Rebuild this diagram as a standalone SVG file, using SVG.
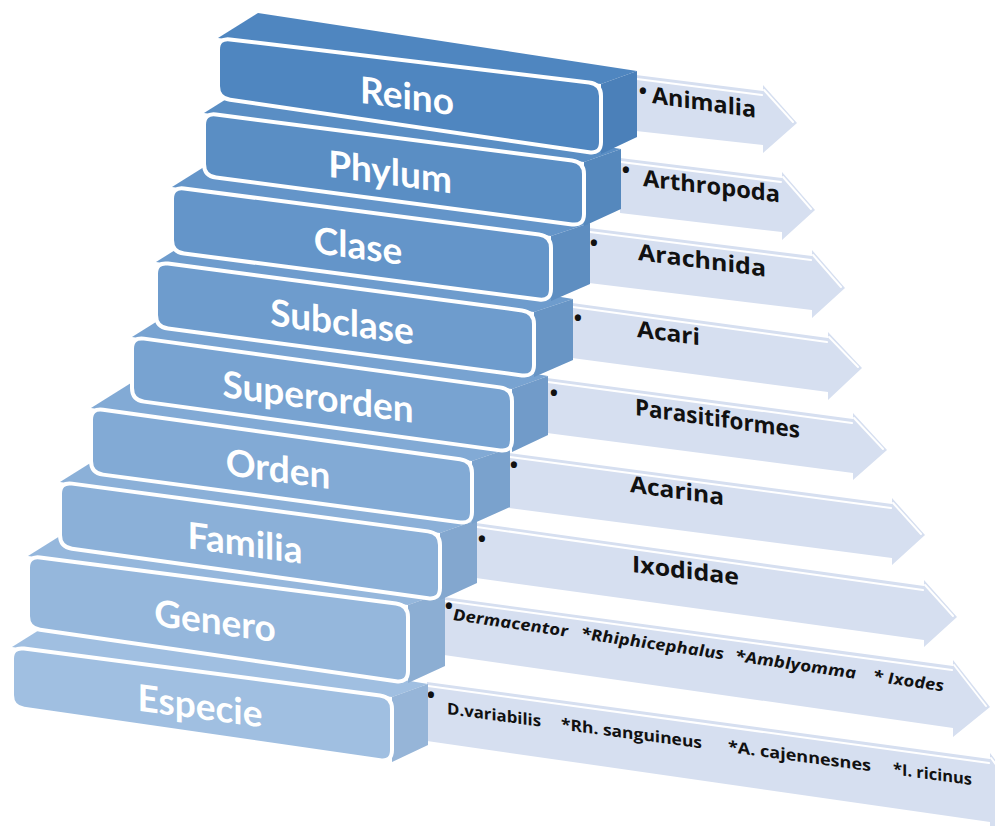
<svg xmlns="http://www.w3.org/2000/svg" width="995" height="826" viewBox="0 0 995 826">
<style>
.arrow{fill:#d6dff0}
.hl{fill:none;stroke:#ffffff;stroke-width:2;stroke-linecap:round}
.front{stroke:#ffffff;stroke-width:4;stroke-linejoin:round}
.side{stroke:none}
.shade{fill:#1f3f6a;opacity:0.07}
.lbl{font-family:Lato,"Open Sans","Liberation Sans",sans-serif;font-weight:700;font-size:37px;fill:#ffffff;text-anchor:middle}
.val{font-family:"Open Sans","Liberation Sans",sans-serif;font-weight:700;font-size:23px;fill:#111111}
.sm{font-family:"Open Sans","Liberation Sans",sans-serif;font-weight:700;font-size:16px;fill:#111111}
.it{font-style:italic}
.bul{font-family:"Open Sans","Liberation Sans",sans-serif;font-weight:700;font-size:22px;fill:#111111;text-anchor:middle}
</style>
<rect width="995" height="826" fill="#ffffff"/>

<g id="node-especie">
<polygon class="arrow" points="427,682 990,759 990,753 1030,805 990,835 990,822 427,741"/>
<polyline class="hl" points="428,686 989,763"/><polyline class="hl" points="991,758 1026,804"/>
<text class="bul" x="431" y="703" font-size="17">•</text>
<g transform="translate(447,714) skewY(7.7)">
<text class="sm" x="0" y="0" textLength="94" lengthAdjust="spacingAndGlyphs">D.variabilis</text>
<text class="sm" x="114" y="0" textLength="141" lengthAdjust="spacingAndGlyphs">*Rh. sanguineus</text>
<text class="sm" x="281" y="0" textLength="143" lengthAdjust="spacingAndGlyphs">*A. cajennesnes</text>
<text class="sm" x="446" y="0" textLength="79" lengthAdjust="spacingAndGlyphs">*I. ricinus</text>
</g>
<polygon fill="#a0bfe1" points="12,647 52,622 428,684 392,697"/>
<polygon fill="#a0bfe1" points="392,697 428,684 428,745 392,762"/>
<polygon class="shade" points="392,697 428,684 428,745 392,762"/>
<path class="front" fill="#a0bfe1" d="M12,659 Q12,647 24,648.58 L380,695.42 Q392,697 392,709 L392,750 Q392,762 380,760.26 L24,708.74 Q12,707 12,695 Z"/>
<text class="lbl" transform="translate(200,719) skewY(7.7)">Especie</text>
</g>

<g id="node-genero">
<polygon class="arrow" points="444,597 953,666 953,660 990,707 953,737 953,728 444,655"/>
<polyline class="hl" points="445,601 952,670"/><polyline class="hl" points="954,665 986,706"/>
<text class="bul" x="449" y="614" font-size="17">•</text>
<g transform="translate(453,620) skewY(8.3)">
<text class="sm it" x="0" y="0" textLength="115" lengthAdjust="spacingAndGlyphs">Dermacentor</text>
<text class="sm it" x="128" y="0" textLength="143" lengthAdjust="spacingAndGlyphs">*Rhiphicephalus</text>
<text class="sm it" x="282" y="0" textLength="121" lengthAdjust="spacingAndGlyphs">*Amblyomma</text>
<text class="sm it" x="420" y="0" textLength="71" lengthAdjust="spacingAndGlyphs">* Ixodes</text>
</g>
<polygon fill="#95b7dc" points="28,556 68,531 445,592 408,605"/>
<polygon fill="#95b7dc" points="408,605 445,592 445,666 408,683"/>
<polygon class="shade" points="408,605 445,592 445,666 408,683"/>
<path class="front" fill="#95b7dc" d="M28,568 Q28,556 40,557.55 L396,603.45 Q408,605 408,617 L408,671 Q408,683 396,681.26 L40,629.74 Q28,628 28,616 Z"/>
<text class="lbl" transform="translate(215,634) skewY(7.7)">Genero</text>
</g>

<g id="node-familia">
<polygon class="arrow" points="476,523 924,586 924,580 957,617 924,647 924,640 476,578"/>
<polyline class="hl" points="477,527 923,590"/><polyline class="hl" points="925,585 953,616"/>
<text class="bul" x="482" y="547">•</text>
<text class="val" transform="translate(632,572) skewY(7)" textLength="107" lengthAdjust="spacingAndGlyphs">Ixodidae</text>
<polygon fill="#8bb0d8" points="60,482 100,457 477,520 440,533"/>
<polygon fill="#8bb0d8" points="440,533 477,520 477,583 440,600"/>
<polygon class="shade" points="440,533 477,520 477,583 440,600"/>
<path class="front" fill="#8bb0d8" d="M60,494 Q60,482 72,483.61 L428,531.39 Q440,533 440,545 L440,588 Q440,600 428,598.33 L72,548.67 Q60,547 60,535 Z"/>
<text class="lbl" transform="translate(245,556) skewY(7.7)">Familia</text>
</g>

<g id="node-orden">
<polygon class="arrow" points="509,453 892,504 892,498 925,535 892,565 892,558 509,508"/>
<polyline class="hl" points="510,457 891,508"/><polyline class="hl" points="893,503 921,534"/>
<text class="bul" x="514" y="473">•</text>
<text class="val" transform="translate(630,492) skewY(8)" textLength="94" lengthAdjust="spacingAndGlyphs">Acarina</text>
<polygon fill="#82aad5" points="91,408 131,383 510,448 472,461"/>
<polygon fill="#82aad5" points="472,461 510,448 510,507 472,524"/>
<polygon class="shade" points="472,461 510,448 510,507 472,524"/>
<path class="front" fill="#82aad5" d="M91,420 Q91,408 103,409.67 L460,459.33 Q472,461 472,473 L472,512 Q472,524 460,522.39 L103,474.61 Q91,473 91,461 Z"/>
<text class="lbl" transform="translate(278,482) skewY(7.7)">Orden</text>
</g>

<g id="node-superorden">
<polygon class="arrow" points="547,378 853,419 853,413 887,450 853,480 853,473 547,433"/>
<polyline class="hl" points="548,382 852,423"/><polyline class="hl" points="854,418 883,449"/>
<text class="bul" x="554" y="401">•</text>
<text class="val" transform="translate(635,415) skewY(8)" textLength="165" lengthAdjust="spacingAndGlyphs">Parasitiformes</text>
<polygon fill="#78a3d1" points="132,337 172,312 548,376 512,389"/>
<polygon fill="#78a3d1" points="512,389 548,376 548,435 512,452"/>
<polygon class="shade" points="512,389 548,376 548,435 512,452"/>
<path class="front" fill="#78a3d1" d="M132,349 Q132,337 144,338.64 L500,387.36 Q512,389 512,401 L512,440 Q512,452 500,450.36 L144,401.64 Q132,400 132,388 Z"/>
<text class="lbl" transform="translate(318,410) skewY(7.7)">Superorden</text>
</g>

<g id="node-subclase">
<polygon class="arrow" points="572,303 828,338 828,332 862,368 828,400 828,392 572,358"/>
<polyline class="hl" points="573,307 827,342"/><polyline class="hl" points="829,337 858,367"/>
<text class="bul" x="578" y="326">•</text>
<text class="val" transform="translate(637,337) skewY(7.4)" textLength="63" lengthAdjust="spacingAndGlyphs">Acari</text>
<polygon fill="#6e9ccd" points="156,262 196,237 573,299 534,312"/>
<polygon fill="#6e9ccd" points="534,312 573,299 573,360 534,377"/>
<polygon class="shade" points="534,312 573,299 573,360 534,377"/>
<path class="front" fill="#6e9ccd" d="M156,274 Q156,262 168,263.59 L522,310.41 Q534,312 534,324 L534,365 Q534,377 522,375.41 L168,328.59 Q156,327 156,315 Z"/>
<text class="lbl" transform="translate(342,335) skewY(7.7)">Subclase</text>
</g>

<g id="node-clase">
<polygon class="arrow" points="589,228 812,256 812,250 845,288 812,318 812,310 589,283"/>
<polyline class="hl" points="590,232 811,260"/><polyline class="hl" points="813,255 841,287"/>
<text class="bul" x="594" y="251">•</text>
<text class="val" transform="translate(638,260) skewY(7.4)" textLength="128" lengthAdjust="spacingAndGlyphs">Arachnida</text>
<polygon fill="#6495c9" points="172,187 212,162 590,223 551,236"/>
<polygon fill="#6495c9" points="551,236 590,223 590,284 551,301"/>
<polygon class="shade" points="551,236 590,223 590,284 551,301"/>
<path class="front" fill="#6495c9" d="M172,199 Q172,187 184,188.55 L539,234.45 Q551,236 551,248 L551,289 Q551,301 539,299.45 L184,253.55 Q172,252 172,240 Z"/>
<text class="lbl" transform="translate(358,259) skewY(7.7)">Clase</text>
</g>

<g id="node-phylum">
<polygon class="arrow" points="620,158 782,178 782,172 815,210 782,240 782,232 620,213"/>
<polyline class="hl" points="621,162 781,182"/><polyline class="hl" points="783,177 811,209"/>
<text class="bul" x="626" y="178">•</text>
<text class="val" transform="translate(643,186) skewY(6.8)" textLength="137" lengthAdjust="spacingAndGlyphs">Arthropoda</text>
<polygon fill="#5a8ec4" points="204,113 244,88 621,149 584,162"/>
<polygon fill="#5a8ec4" points="584,162 621,149 621,209 584,226"/>
<polygon class="shade" points="584,162 621,149 621,209 584,226"/>
<path class="front" fill="#5a8ec4" d="M204,125 Q204,113 216,114.55 L572,160.45 Q584,162 584,174 L584,214 Q584,226 572,224.42 L216,177.58 Q204,176 204,164 Z"/>
<text class="lbl" transform="translate(390,185) skewY(7.7)">Phylum</text>
</g>

<g id="node-reino">
<polygon class="arrow" points="636,75 763,91 763,85 797,123 763,153 763,145 636,131"/>
<polyline class="hl" points="637,79 762,95"/><polyline class="hl" points="764,90 793,122"/>
<text class="bul" x="643" y="99">•</text>
<text class="val" transform="translate(652,103) skewY(8)" textLength="104" lengthAdjust="spacingAndGlyphs">Animalia</text>
<polygon fill="#4f86c0" points="218,38 258,13 637,71 601,84"/>
<polygon fill="#4f86c0" points="601,84 637,71 637,137 601,154"/>
<polygon class="shade" points="601,84 637,71 637,137 601,154"/>
<path class="front" fill="#4f86c0" d="M218,50 Q218,38 230,39.44 L589,82.56 Q601,84 601,96 L601,142 Q601,154 589,152.25 L230,99.75 Q218,98 218,86 Z"/>
<text class="lbl" transform="translate(407,109) skewY(7.7)">Reino</text>
</g>
</svg>
